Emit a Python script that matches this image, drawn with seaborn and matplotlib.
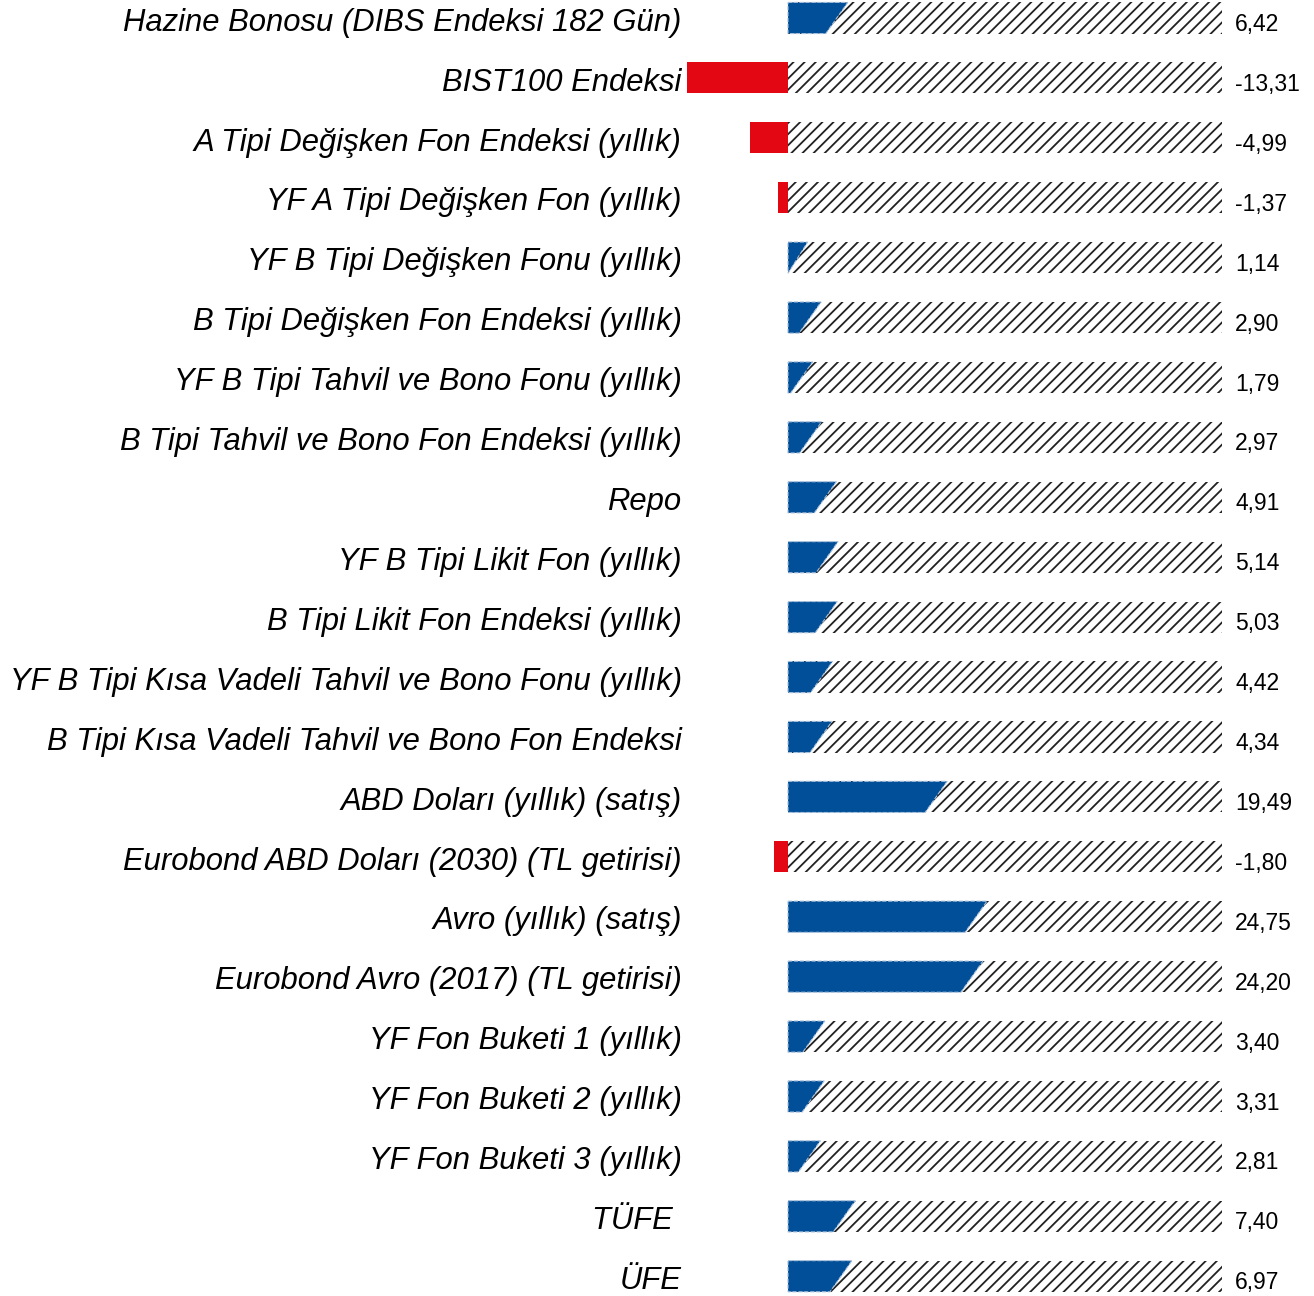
import numpy as np
import pandas as pd
import matplotlib.pyplot as plt
import seaborn as sns
from matplotlib.patches import Polygon

# Data
labels = [
    "Hazine Bonosu (DIBS Endeksi 182 Gün)",
    "BIST100 Endeksi",
    "A Tipi Değişken Fon Endeksi (yıllık)",
    "YF A Tipi Değişken Fon (yıllık)",
    "YF B Tipi Değişken Fonu (yıllık)",
    "B Tipi Değişken Fon Endeksi (yıllık)",
    "YF B Tipi Tahvil ve Bono Fonu (yıllık)",
    "B Tipi Tahvil ve Bono Fon Endeksi (yıllık)",
    "Repo",
    "YF B Tipi Likit Fon (yıllık)",
    "B Tipi Likit Fon Endeksi (yıllık)",
    "YF B Tipi Kısa Vadeli Tahvil ve Bono Fonu (yıllık)",
    "B Tipi Kısa Vadeli Tahvil ve Bono Fon Endeksi",
    "ABD Doları (yıllık) (satış)",
    "Eurobond ABD Doları (2030) (TL getirisi)",
    "Avro (yıllık) (satış)",
    "Eurobond Avro (2017) (TL getirisi)",
    "YF Fon Buketi 1 (yıllık)",
    "YF Fon Buketi 2 (yıllık)",
    "YF Fon Buketi 3 (yıllık)",
    "TÜFE ",
    "ÜFE",
]
values = [6.42, -13.31, -4.99, -1.37, 1.14, 2.90, 1.79, 2.97, 4.91, 5.14, 5.03,
          4.42, 4.34, 19.49, -1.80, 24.75, 24.20, 3.40, 3.31, 2.81, 7.40, 6.97]

BLUE = "#004f98"
RED = "#e30613"
SCALE = 7.6                      # pixels per percentage point
HATCH_LEN = (1222 - 788) / SCALE  # length of the hatched background track
SLANT = 22 / SCALE               # horizontal size of the slanted bar end

sns.set_style("white")
plt.rcParams["font.family"] = ["Liberation Sans", "DejaVu Sans"]
plt.rcParams["hatch.linewidth"] = 1.3
plt.rcParams["hatch.color"] = "#222222"

df = pd.DataFrame({"label": labels, "value": values})
df["back"] = HATCH_LEN
df["sign"] = np.where(df["value"] >= 0, "pos", "neg")
df["text"] = [f"{v:.2f}".replace(".", ",") for v in values]

fig = plt.figure(figsize=(13.14, 12.96), dpi=100)
ax = fig.add_axes([690 / 1314, 0, 1 - 690 / 1314, 1])

# hatched background track
sns.barplot(data=df, x="back", y="label", color="white", width=0.52,
            edgecolor="#222222", linewidth=0, hatch="///", ax=ax)
n_back = len(ax.patches)

# value bars
sns.barplot(data=df, x="value", y="label", hue="sign",
            palette={"pos": BLUE, "neg": RED}, width=0.52, dodge=False,
            legend=False, saturation=1, linewidth=0, ax=ax)

for rect in list(ax.patches[n_back:]):
    w = rect.get_width()
    if rect.get_height() == 0 or np.isnan(w):
        continue
    if w > 0:
        y, h = rect.get_y(), rect.get_height()
        poly = Polygon([(0, y), (w + SLANT / 2, y), (max(w - SLANT / 2, 0), y + h), (0, y + h)],
                       closed=True, facecolor=BLUE, edgecolor="#a9c0dc",
                       linestyle="--", linewidth=0.8, zorder=3)
        rect.remove()
        ax.add_patch(poly)
    else:
        rect.set_clip_on(False)
        rect.set_zorder(3)

# value labels
for i, txt in enumerate(df["text"]):
    ax.text(HATCH_LEN + 13 / SCALE, i + 0.11, txt, ha="left", va="center",
            fontsize=16.5, color="black")

ax.set_xlim((690 - 788) / SCALE, (1314 - 788) / SCALE)
ax.set_ylim(21.33, -0.3)
ax.set_yticks(np.arange(len(labels)) + 0.02)
ax.set_yticklabels(labels, fontstyle="italic", fontsize=22.3, color="black")
ax.tick_params(axis="y", length=0, pad=6)
ax.set_xticks([])
ax.set_xlabel("")
ax.set_ylabel("")
sns.despine(ax=ax, left=True, bottom=True)

plt.savefig("out.png", dpi=100)
